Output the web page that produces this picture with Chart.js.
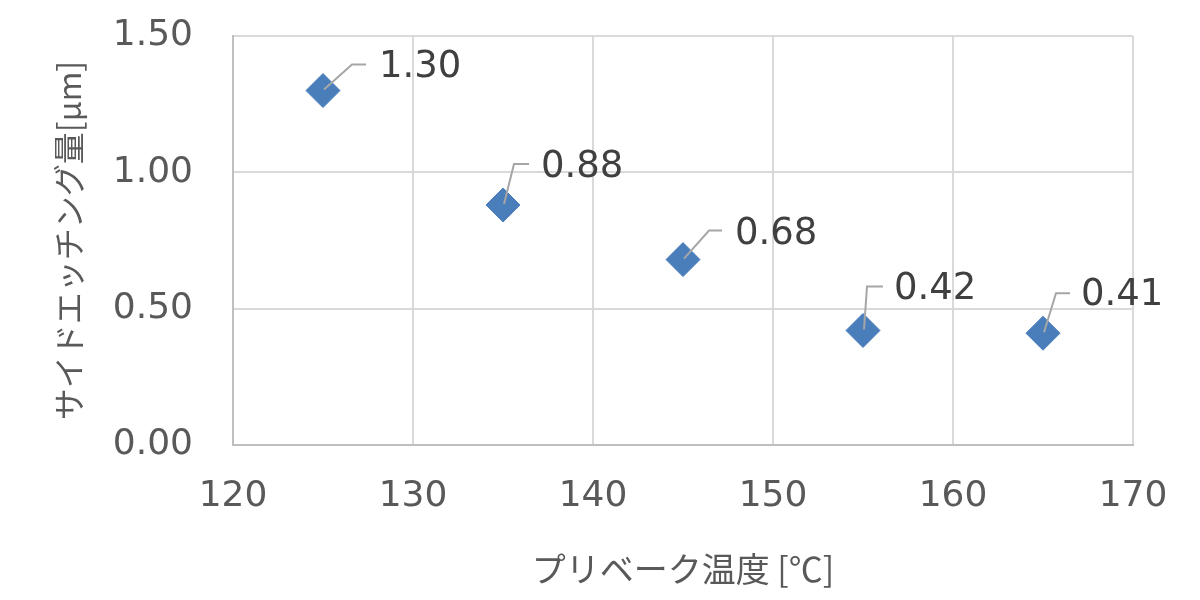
<!DOCTYPE html>
<html>
<head>
<meta charset="utf-8">
<script src="https://cdn.jsdelivr.net/npm/chart.js@4/dist/chart.umd.min.js"></script>
<style>
  html, body { margin: 0; padding: 0; background: #ffffff; }
  #wrap { width: 1200px; height: 600px; }
</style>
</head>
<body>
<div id="wrap"><canvas id="etchChart" width="1200" height="600"></canvas></div>
<script>
// Data
const temps = [125, 135, 145, 155, 165];
const sideEtch = [1.30, 0.88, 0.68, 0.42, 0.41];
const xTitle = 'プリベーク温度 [℃]';
const yTitle = 'サイドエッチング量[μm]';

// label placement relative to each marker (px): elbow, end of leader, text
const labelOffsets = [
    { ex: 29, ey: -26, hx: 43, tx: 56, ty: -23 },
    { ex: 11, ey: -41, hx: 26, tx: 38, ty: -38 },
    { ex: 26, ey: -29, hx: 39, tx: 52, ty: -25 },
    { ex: 4, ey: -44, hx: 20, tx: 31, ty: -41 },
    { ex: 13, ey: -40, hx: 27, tx: 38, ty: -38 }
];

const tickFont = { family: 'DejaVu Sans', size: 36 };

// Data labels with leader lines, drawn on top of the markers
const leaderLabels = {
    id: 'leaderLabels',
    afterDatasetsDraw(chart) {
        const ctx = chart.ctx;
        const meta = chart.getDatasetMeta(0);
        ctx.save();
        meta.data.forEach(function(pt, i) {
            const o = labelOffsets[i];
            ctx.strokeStyle = '#a6a6a6';
            ctx.lineWidth = 2;
            ctx.beginPath();
            ctx.moveTo(pt.x + 1, pt.y - 1);
            ctx.lineTo(pt.x + o.ex, pt.y + o.ey);
            ctx.lineTo(pt.x + o.hx, pt.y + o.ey);
            ctx.stroke();
            ctx.fillStyle = '#404040';
            ctx.font = '37px "DejaVu Sans"';
            ctx.textAlign = 'left';
            ctx.textBaseline = 'middle';
            ctx.fillText(sideEtch[i].toFixed(2), pt.x + o.tx, pt.y + o.ty);
        });
        ctx.restore();
    }
};

new Chart(document.getElementById('etchChart').getContext('2d'), {
    type: 'scatter',
    data: {
        datasets: [{
            data: temps.map(function(t, i) { return { x: t, y: sideEtch[i] }; }),
            pointStyle: 'rectRot',
            pointRadius: 17,
            pointHoverRadius: 17,
            backgroundColor: '#4a7ebb',
            borderColor: '#4a7ebb',
            borderWidth: 1
        }]
    },
    options: {
        responsive: false,
        animation: false,
        layout: { padding: { top: 36, right: 67, left: 0, bottom: 0 } },
        plugins: {
            legend: { display: false },
            tooltip: { enabled: false }
        },
        scales: {
            x: {
                type: 'linear',
                min: 120,
                max: 170,
                afterFit: function(scale) { scale.height = 155; },
                ticks: {
                    stepSize: 10,
                    padding: 30,
                    color: '#595959',
                    font: tickFont
                },
                grid: { color: '#d9d9d9', lineWidth: 2, drawTicks: false },
                border: { color: '#bfbfbf', width: 2 },
                title: {
                    display: true,
                    text: xTitle,
                    color: '#595959',
                    font: { family: 'Noto Sans CJK JP', size: 34 },
                    padding: { top: 0, bottom: 11 }
                }
            },
            y: {
                min: 0,
                max: 1.5,
                afterFit: function(scale) {
                    scale.width = 233;
                    // tick padding would otherwise push the plot top down
                    scale.paddingTop = 0;
                    scale.paddingBottom = 0;
                },
                ticks: {
                    stepSize: 0.5,
                    padding: 40,
                    color: '#595959',
                    font: tickFont,
                    callback: function(v) { return v.toFixed(2); }
                },
                grid: { color: '#d9d9d9', lineWidth: 2, drawTicks: false },
                border: { color: '#bfbfbf', width: 2 },
                title: {
                    display: true,
                    text: yTitle,
                    color: '#595959',
                    font: { family: 'Noto Sans CJK JP', size: 32 },
                    padding: { top: 50, bottom: 0 }
                }
            }
        }
    },
    plugins: [leaderLabels]
});
</script>
</body>
</html>
